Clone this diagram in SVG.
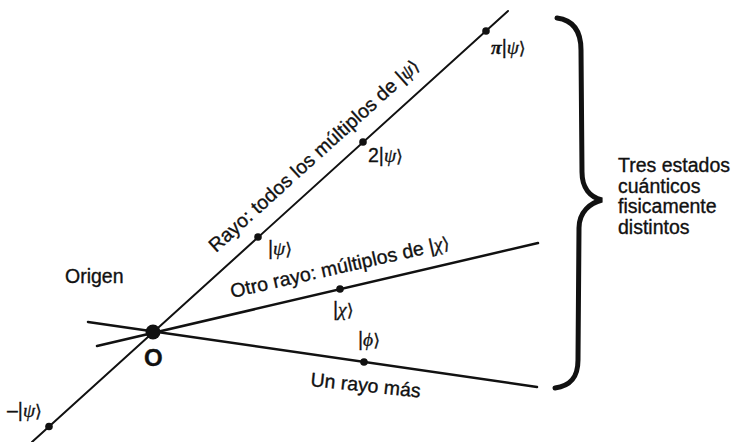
<svg xmlns="http://www.w3.org/2000/svg" width="731" height="442" viewBox="0 0 731 442">
<style>
.t{font-family:"Liberation Sans","DejaVu Sans",sans-serif;font-size:19.5px;fill:#111;stroke:#111;stroke-width:0.35}
.k{font-family:"Liberation Sans","DejaVu Sans",sans-serif;font-size:19.5px;fill:#111;stroke:#111;stroke-width:0.3}
.g{font-family:"Liberation Serif","DejaVu Serif",serif;font-style:italic}
.a{font-family:"DejaVu Sans",sans-serif;font-size:17.5px}
.ln{stroke:#111;fill:none;stroke-linecap:round}
.d{fill:#111}
</style>
<rect width="731" height="442" fill="#fff"/>
<g id="connectors">
<line class="ln" x1="32" y1="442" x2="508" y2="11" stroke-width="2"/>
<line class="ln" x1="97" y1="346" x2="538" y2="243" stroke-width="2.5"/>
<line class="ln" x1="88" y1="322" x2="537" y2="387" stroke-width="2.5"/>
<path id="brace" class="ln" stroke-width="5" d="M557,18 C572,20 581,30 581,50 L582,172 C582,188 590,197 602,200 C590,203 579,212 579,228 L578,360 C578,378 570,386 555,388"/>
</g>
<g id="origin">
<circle class="d" cx="153" cy="332" r="7.5"/>
<text class="t" x="144" y="366" style="font-size:24px;font-weight:bold">O</text>
<text class="t" x="65" y="283">Origen</text>
</g>
<g id="psi-neg">
<circle class="d" cx="49" cy="426.5" r="3.8"/>
<text class="k" x="7" y="417">–|<tspan class="g">ψ</tspan><tspan class="a">⟩</tspan></text>
</g>
<g id="psi">
<circle class="d" cx="258" cy="237" r="3.8"/>
<text class="k" x="268" y="255">|<tspan class="g">ψ</tspan><tspan class="a">⟩</tspan></text>
</g>
<g id="psi2">
<circle class="d" cx="363" cy="142" r="3.8"/>
<text class="k" x="368" y="162">2|<tspan class="g">ψ</tspan><tspan class="a">⟩</tspan></text>
</g>
<g id="psipi">
<circle class="d" cx="486" cy="31" r="3.8"/>
<text class="k" x="491" y="54"><tspan class="g" style="font-weight:bold">π</tspan>|<tspan class="g">ψ</tspan><tspan class="a">⟩</tspan></text>
</g>
<g id="chi">
<circle class="d" cx="340" cy="289" r="3.8"/>
<text class="k" x="333" y="316">|<tspan class="g">χ</tspan><tspan class="a">⟩</tspan></text>
</g>
<g id="phi">
<circle class="d" cx="364" cy="362" r="3.8"/>
<text class="k" x="358" y="346">|<tspan class="g">ϕ</tspan><tspan class="a">⟩</tspan></text>
</g>
<g id="ray-labels">
<text class="t" transform="translate(216,253) rotate(-42.16)" textLength="276">Rayo: todos los múltiplos de |<tspan class="g">ψ</tspan><tspan class="a">⟩</tspan></text>
<text class="t" transform="translate(232,298) rotate(-12.8)" textLength="224">Otro rayo: múltiplos de |<tspan class="g">χ</tspan><tspan class="a">⟩</tspan></text>
<text class="t" transform="translate(310,386) rotate(6)">Un rayo más</text>
</g>
<g id="note">
<text class="t" x="618" y="172">Tres estados</text>
<text class="t" x="618" y="193">cuánticos</text>
<text class="t" x="618" y="213">fisicamente</text>
<text class="t" x="618" y="234">distintos</text>
</g>
</svg>
